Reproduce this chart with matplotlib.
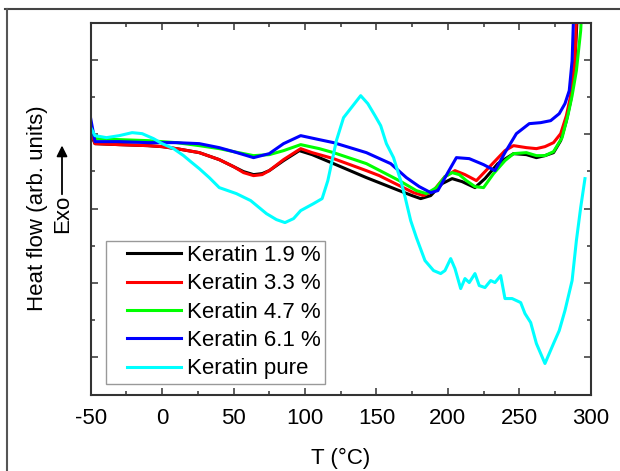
import numpy as np
import matplotlib
matplotlib.use("Agg")
import matplotlib.pyplot as plt
from matplotlib.lines import Line2D
from matplotlib.legend_handler import HandlerLine2D

plt.rcParams['font.family'] = ['Liberation Sans', 'DejaVu Sans']
plt.rcParams['axes.unicode_minus'] = False

# heat flow in arbitrary units (0 = bottom of frame, 372 = top)
T_19 = [-50, -47, -30, -10, 0, 10, 26, 40, 50, 57, 64, 70, 75, 85, 96, 105, 120, 143, 166, 175, 181, 188,
        196, 203, 210, 219, 226, 235, 246, 255, 262, 268, 274, 279, 283, 286, 289, 292]
hf_19 = [261, 251, 250, 249, 248, 246, 242, 235, 228, 223, 220, 221, 224, 234, 244, 240, 231, 217, 204, 199, 196, 199,
         211, 216, 213, 207, 216, 231, 241, 240, 237, 239, 242, 254, 274, 294, 334, 420]

T_33 = [-50, -47, -30, -10, 0, 10, 26, 40, 50, 57, 64, 70, 75, 85, 97, 105, 120, 143, 152, 166, 176, 183,
        190, 198, 205, 212, 220, 230, 240, 246, 255, 262, 268, 274, 279, 283, 286, 289, 291]
hf_33 = [264, 251, 250, 249, 248, 246, 242, 235, 228, 222, 219, 220, 224, 235, 246, 242, 236, 224, 219, 209, 202, 199,
         204, 218, 224, 220, 214, 229, 244, 249, 247, 246, 248, 252, 261, 279, 299, 334, 420]

T_47 = [-50, -47, -30, -10, 0, 10, 26, 40, 50, 64, 75, 85, 97, 110, 120, 143, 166, 178, 185, 192,
        198, 203, 208, 213, 219, 225, 232, 240, 246, 255, 262, 268, 274, 280, 284, 287, 290, 293, 295]
hf_47 = [266, 256, 255, 254, 253, 252, 249, 246, 243, 239, 240, 244, 250, 246, 242, 231, 214, 204, 201, 207,
         218, 222, 220, 214, 208, 207, 221, 234, 241, 242, 239, 239, 243, 257, 279, 299, 324, 364, 420]

T_61 = [-50, -47, -30, -10, 0, 10, 26, 40, 50, 64, 75, 85, 97, 110, 120, 143, 160, 171, 180, 188,
        193, 200, 206, 215, 225, 233, 240, 248, 257, 265, 272, 278, 282, 285, 287, 289]
hf_61 = [276, 253, 253, 252, 252, 252, 251, 247, 243, 237, 241, 251, 259, 255, 252, 242, 231, 217, 208, 202,
         204, 222, 237, 236, 230, 224, 242, 261, 271, 272, 274, 281, 291, 304, 334, 420]

T_pure = [-50, -47, -39, -30, -21, -14, -6, 0, 8, 15, 20, 26, 33, 40, 52, 62, 73, 80, 86, 92,
          97, 106, 112, 116, 122, 127, 133, 139, 144, 149, 153, 157, 162, 167, 170, 174, 178, 184, 190, 195,
          198, 202, 205, 209, 212, 215, 219, 222, 226, 230, 233, 237, 240, 245, 251, 254, 258, 262, 268, 274,
          278, 282, 287, 290, 293, 296]
hf_pure = [267, 259, 257, 259, 262, 261, 256, 251, 246, 239, 233, 226, 217, 207, 201, 194, 181, 175, 172, 176,
           184, 191, 196, 214, 254, 277, 288, 299, 291, 279, 269, 251, 237, 214, 198, 174, 157, 134, 124, 121,
           124, 136, 126, 106, 116, 112, 121, 109, 107, 114, 112, 119, 96, 96, 92, 81, 72, 51, 31, 51,
           64, 84, 114, 154, 187, 216]

series = [
    (T_19, hf_19, 'black', 'Keratin 1.9 %'),
    (T_33, hf_33, '#ff0000', 'Keratin 3.3 %'),
    (T_47, hf_47, '#00ff00', 'Keratin 4.7 %'),
    (T_61, hf_61, '#0000ff', 'Keratin 6.1 %'),
    (T_pure, hf_pure, '#00ffff', 'Keratin pure'),
]

fig = plt.figure(figsize=(6.2, 4.71), dpi=100)
ax = fig.add_axes([0.1463, 0.1624, 0.8064, 0.7894])

for t, hf, c, lab in series:
    ax.plot(t, hf, color=c, lw=2.2, label=lab)

ax.set_xlim(-50, 300)
ax.set_ylim(0, 372)
ax.set_xticks(np.arange(-50, 301, 50))
ax.set_xticks(np.arange(-25, 300, 50), minor=True)
ax.set_yticks(np.arange(37.2, 372, 74.4))
ax.set_yticks(np.arange(74.4, 372, 74.4), minor=True)
ax.set_yticklabels([])

spine_c = '#333333'
for s in ax.spines.values():
    s.set_color(spine_c)
    s.set_linewidth(1.5)
ax.tick_params(which='both', direction='in', top=True, right=True, color=spine_c, width=1.1)
ax.tick_params(which='major', length=5, labelsize=16, pad=10)
ax.tick_params(which='minor', length=2.8)

ax.set_xlabel('T (°C)', fontsize=16, labelpad=13)
ax.set_ylabel('Heat flow (arb. units)', fontsize=16, labelpad=21)

leg = ax.legend(loc='lower left', bbox_to_anchor=(0.03, 0.029), borderaxespad=0,
                fontsize=16, frameon=True, fancybox=False, framealpha=1,
                edgecolor='#999999', borderpad=0.2, labelspacing=0.33,
                handlelength=3.17, handletextpad=0.3,
                handler_map={Line2D: HandlerLine2D(xpad=0.77)})
leg.get_frame().set_linewidth(1.0)

# Exo arrow
fig.text(0.1016, 0.5456, 'Exo', rotation=90, fontsize=16, ha='center', va='center')
ax.annotate('', xy=(0.1, 0.697), xycoords='figure fraction',
            xytext=(0.1, 0.5817), textcoords='figure fraction',
            arrowprops=dict(arrowstyle='-|>', color='black', lw=1.3, mutation_scale=16))

# outer frame (top and left edges visible)
fig.add_artist(Line2D([0.008, 1.0], [0.98, 0.98], transform=fig.transFigure, color='#444444', lw=1.5))
fig.add_artist(Line2D([0.0105, 0.0105], [0.0, 0.98], transform=fig.transFigure, color='#555555', lw=1.5))

fig.savefig('out.png', dpi=100)
